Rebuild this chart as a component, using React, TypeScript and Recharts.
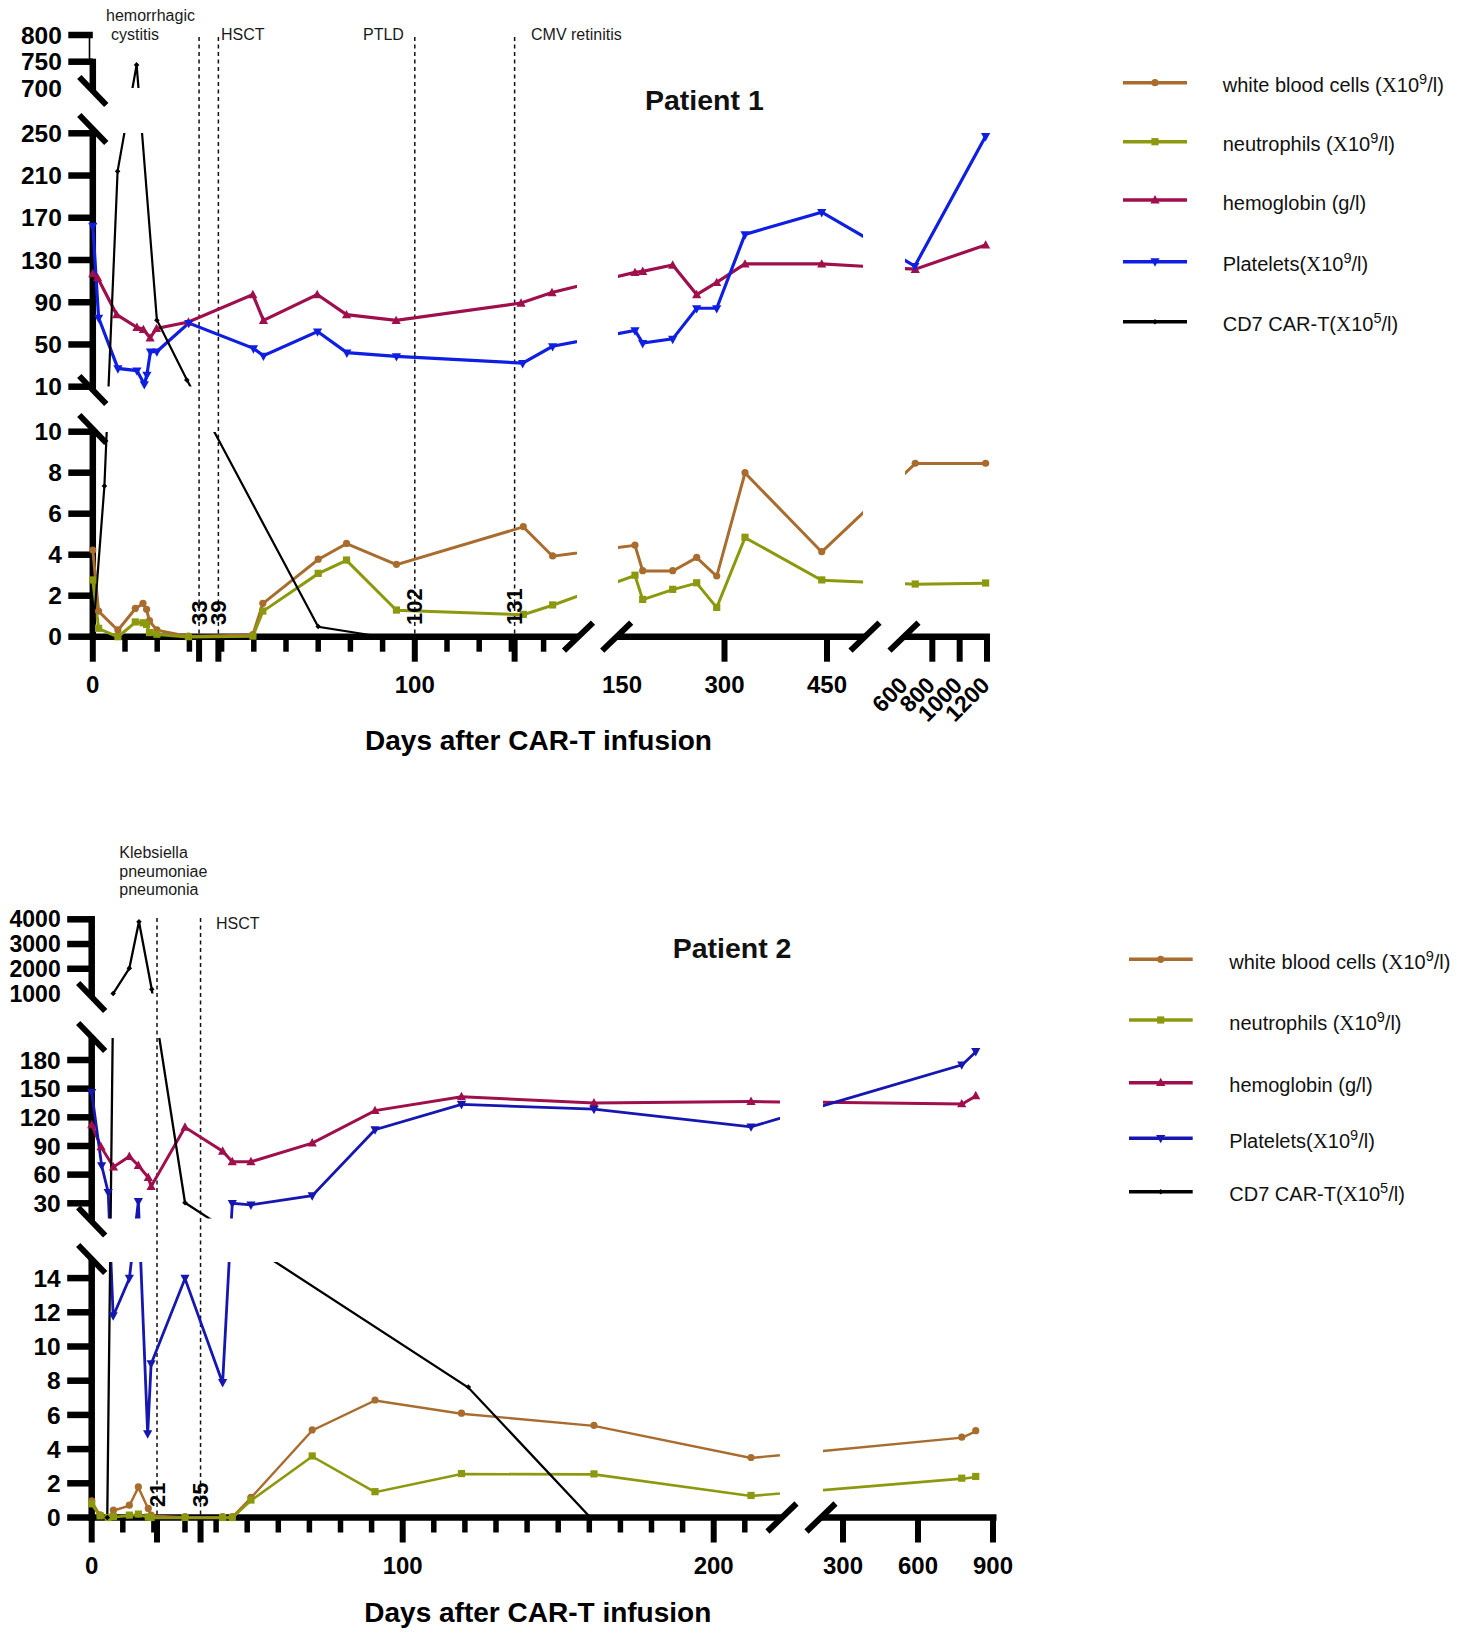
import React from "react";
import { LineChart, Line, XAxis, YAxis, ReferenceLine } from "recharts";

const PAGE_W = 1458;
const PAGE_H = 1634;
const SANS = "'Liberation Sans', Arial, Helvetica, sans-serif";
const SERIF = "'Liberation Serif', 'Times New Roman', serif";

const WBC_COLOR = "#A86D2E";
const NEUT_COLOR = "#8C990F";
const HB_COLOR = "#9E0F4C";
const PLT1_COLOR = "#0F1FE2";
const PLT2_COLOR = "#1616B0";
const CART_COLOR = "#000000";

// ---------- Patient 1: days after infusion and values ----------
const p1CountDays = [0, 1.8, 7.8, 13.2, 15.6, 16.7, 17.6, 19.9, 29.7, 49.7, 52.8, 70, 78.8, 94.3, 133.7, 142.8, 169, 180.3, 224.2, 259.3, 288.6, 330, 442.3, 675, 1190];
const p1Wbc = [4.23, 1.25, 0.33, 1.38, 1.63, 1.34, 0.78, 0.33, 0.03, 0.1, 1.63, 3.78, 4.55, 3.53, 5.37, 3.94, 4.47, 3.22, 3.22, 3.87, 2.96, 8.0, 4.15, 8.46, 8.46];
const p1Neut = [2.77, 0.41, 0, 0.72, 0.68, 0.6, 0.2, 0.12, 0, 0.03, 1.25, 3.09, 3.74, 1.3, 1.09, 1.55, 3.0, 1.82, 2.31, 2.63, 1.43, 4.85, 2.77, 2.57, 2.62];
const p1HbDays = [0, 1.5, 7.4, 13.7, 15.7, 17.8, 19.8, 29.7, 49.7, 53, 69.7, 78.8, 94.2, 133, 142.6, 169, 180.3, 224.2, 259.3, 288.6, 330, 442.3, 675, 1190];
const p1Hb = [117, 113, 78, 66, 64, 56, 65, 71, 97, 72.5, 97, 78, 72.5, 89, 99, 118, 119, 125, 97, 108.5, 126, 126, 121, 144];
const p1PltDays = [0, 1.8, 7.8, 13.7, 16, 16.8, 17.9, 19.9, 29.8, 49.9, 53, 69.8, 78.9, 94.3, 133.5, 142.8, 169, 180.3, 224.2, 259.3, 288.6, 330, 442.3, 672, 1190];
const p1Plt = [162, 75, 27, 25, 12, 21, 43, 43, 70, 46, 39, 62, 42, 38.5, 32, 48, 63, 51, 55, 84, 84, 154, 175, 124, 247];
const p1CarDays = [0, 3.6, 7.7, 13.6, 19.9, 29.2, 70, 90];
const p1Car = [0, 7.35, 214, 744, 73, 16.3, 0.5, 0];

// ---------- Patient 2 ----------
const p2CountDays = [0, 2.7, 5.3, 7, 12.1, 15, 18.2, 19.1, 30, 42.1, 45.2, 51.2, 70.9, 91.1, 118.9, 161.5, 212, 775, 831];
const p2Wbc = [0.98, 0.15, 0, 0.43, 0.72, 1.79, 0.53, 0.14, 0.05, 0.05, 0.05, 1.18, 5.12, 6.87, 6.1, 5.39, 3.51, 4.7, 5.08];
const p2Neut = [0.8, 0.1, 0, 0.05, 0.14, 0.2, 0.03, 0, 0, 0, 0, 1.02, 3.6, 1.51, 2.57, 2.55, 1.29, 2.3, 2.4];
const p2HbDays = [0, 3, 7, 12.1, 15, 18.2, 19.1, 30, 42.1, 45.2, 51.2, 70.9, 91.1, 118.9, 161.5, 212, 775, 831];
const p2Hb = [112, 89, 68, 79, 69.5, 57, 47.5, 109.5, 84.5, 73.5, 73.5, 93, 127, 141.5, 135, 136.5, 134, 142.5];
const p2PltDays = [0, 3.2, 5.3, 6.9, 12.1, 15, 18, 19.1, 30, 42.1, 45.2, 51.2, 70.9, 91.1, 118.9, 161.5, 212, 775, 831];
const p2Plt = [146, 69.5, 41.5, 11.8, 14, 32, 4.9, 9, 14, 7.9, 30, 28.3, 38, 107, 133.5, 128.5, 110, 175, 189];
const p2CarDays = [5, 6.9, 12.1, 15.2, 19.3, 30, 121.1, 160.5];
const p2Car = [0, 1000, 2019, 3903, 1170, 30.6, 7.63, 0];

// ---------- events (day of the dashed line, printed tag) ----------
const p1EventDays = [33, 39, 100, 131];
const p1EventTags = ["33", "39", "102", "131"];
const p2EventDays = [21, 35];
const p2EventTags = ["21", "35"];

// ---------- ticks ----------
const p1MajorX = [0, 33, 39, 100, 131, 300, 450, 800, 1000, 1200];
const p1MinorX = [10, 20, 30, 40, 50, 60, 70, 80, 90, 110, 120, 130, 140];
const p1XLabels = [[0, "0"], [100, "100"], [150, "150"], [300, "300"], [450, "450"]];
const p1SlantLabels = [[600, "600"], [800, "800"], [1000, "1000"], [1200, "1200"]];
const p1YBottom = [0, 2, 4, 6, 8, 10];
const p1YMiddle = [10, 50, 90, 130, 170, 210, 250];
const p1YTop = [700, 750, 800];

const p2MajorX = [0, 21, 35, 100, 200, 300, 600, 900];
const p2MinorX = [10, 20, 30, 40, 50, 60, 70, 80, 90, 110, 120, 130, 140, 150, 160, 170, 180, 190, 210];
const p2XLabels = [[0, "0"], [100, "100"], [200, "200"], [300, "300"], [600, "600"], [900, "900"]];
const p2YBottom = [0, 2, 4, 6, 8, 10, 12, 14];
const p2YMiddle = [30, 60, 90, 120, 150, 180];
const p2YTop = [1000, 2000, 3000, 4000];

const legendNames = [
  { text: "white blood cells (", exp: "9" },
  { text: "neutrophils (", exp: "9" },
  { text: "hemoglobin (g/l)", exp: "" },
  { text: "Platelets(", exp: "9" },
  { text: "CD7 CAR-T(", exp: "5" },
];

// ---------- broken-axis pieces: value range -> page pixel ----------
type Piece = { hi: number; v0: number; p0: number; v1: number; p1: number };
const place = (pc: Piece, v: number) => pc.p0 + ((v - pc.v0) * (pc.p1 - pc.p0)) / (pc.v1 - pc.v0);
const mapBroken = (pieces: Piece[], v: number) =>
  place(pieces.find((pc) => v <= pc.hi) || pieces[pieces.length - 1], v);

const p1XPieces: Piece[] = [
  { hi: 148, v0: 0, p0: 92.8, v1: 100, p1: 414.8 },
  { hi: 560, v0: 150, p0: 622, v1: 450, p1: 827 },
  { hi: Infinity, v0: 600, p0: 905, v1: 1200, p1: 987 },
];
const p1YPieces: Piece[] = [
  { hi: 10, v0: 0, p0: 636.7, v1: 10, p1: 431.7 },
  { hi: 600, v0: 10, p0: 386.7, v1: 250, p1: 133.3 },
  { hi: Infinity, v0: 700, p0: 88.4, v1: 800, p1: 35 },
];
const p2XPieces: Piece[] = [
  { hi: 225, v0: 0, p0: 91.7, v1: 200, p1: 713.7 },
  { hi: Infinity, v0: 300, p0: 843, v1: 900, p1: 993 },
];
const p2YPieces: Piece[] = [
  { hi: 15, v0: 0, p0: 1517.5, v1: 14, p1: 1278.1 },
  { hi: 999, v0: 30, p0: 1203.3, v1: 180, p1: 1060 },
  { hi: Infinity, v0: 1000, p0: 993.5, v1: 4000, p1: 919.3 },
];

type Kind = "circle" | "square" | "up" | "down" | "diamond";

function Marker({ kind, cx, cy, color }: { kind: Kind; cx: number; cy: number; color: string }) {
  if (kind === "circle") return <circle cx={cx} cy={cy} r={3.6} fill={color} />;
  if (kind === "square") return <rect x={cx - 3.6} y={cy - 3.6} width={7.2} height={7.2} fill={color} />;
  if (kind === "up")
    return <polygon points={`${cx},${cy - 5} ${cx - 4.6},${cy + 3.4} ${cx + 4.6},${cy + 3.4}`} fill={color} />;
  if (kind === "down")
    return <polygon points={`${cx},${cy + 5} ${cx - 4.6},${cy - 3.4} ${cx + 4.6},${cy - 3.4}`} fill={color} />;
  return <polygon points={`${cx},${cy - 2.8} ${cx + 2.8},${cy} ${cx},${cy + 2.8} ${cx - 2.8},${cy}`} fill={color} />;
}

function buildXTicks(major: number[], minor: number[], labels: any[], slant: any[]) {
  const all = new Map<number, any>();
  minor.forEach((v) => all.set(v, { v, len: 15 }));
  major.forEach((v) => all.set(v, { v, len: 25 }));
  labels.forEach(([v, t]) => all.set(v, { ...(all.get(v) || { v, len: 0 }), label: t }));
  slant.forEach(([v, t]) => all.set(v, { ...(all.get(v) || { v, len: 0 }), label: t, slant: true }));
  return [...all.values()].sort((a, b) => a.v - b.v);
}

function buildYTicks(groups: number[][], noLine: number[], sizes: number[]) {
  const out: any[] = [];
  groups.forEach((vals, piece) =>
    vals.forEach((v) =>
      out.push({ piece, v, label: String(v), line: !noLine.includes(v), size: sizes[piece] })
    )
  );
  return out;
}

const panels = [
  {
    id: "p1",
    regionTop: 0,
    regionBottom: 780,
    plotLeft: 92.8,
    plotRight: 990,
    plotTop: 30,
    axisY: 636.7,
    xPieces: p1XPieces,
    yPieces: p1YPieces,
    xWindows: [[90, 577], [618, 863.3], [905, 990]],
    yWindows: [[30, 88.4], [133.3, 386.7], [431.7, 639]],
    xTicks: buildXTicks(p1MajorX, p1MinorX, p1XLabels, p1SlantLabels),
    yTicks: buildYTicks([p1YBottom, p1YMiddle, p1YTop], [700], [24.5, 24.5, 24.5]),
    xAxisSegs: [[89.5, 578.5], [616.7, 865], [904, 990]],
    yAxisSegs: [[58.7, 91], [129, 390], [429, 640]],
    thinTop: [35, 61.7],
    xBreaks: [578.5, 616.7, 865, 904],
    yBreaks: [91, 129, 390, 429],
    eventDays: p1EventDays,
    eventTags: p1EventTags,
    eventTop: 37,
    tagBottom: 625,
    series: [
      { id: "wbc", days: p1CountDays, values: p1Wbc, color: WBC_COLOR, width: 3, kind: "circle" },
      { id: "neut", days: p1CountDays, values: p1Neut, color: NEUT_COLOR, width: 3, kind: "square" },
      { id: "hb", days: p1HbDays, values: p1Hb, color: HB_COLOR, width: 3.2, kind: "up" },
      { id: "plt", days: p1PltDays, values: p1Plt, color: PLT1_COLOR, width: 3.2, kind: "down" },
      { id: "car", days: p1CarDays, values: p1Car, color: CART_COLOR, width: 2.2, kind: "diamond" },
    ],
  },
  {
    id: "p2",
    regionTop: 800,
    regionBottom: PAGE_H,
    plotLeft: 91.7,
    plotRight: 997,
    plotTop: 910,
    axisY: 1517.5,
    xPieces: p2XPieces,
    yPieces: p2YPieces,
    xWindows: [[89, 780], [822.5, 997]],
    yWindows: [[915, 993.5], [1038, 1218.6], [1261.5, 1519.5]],
    xTicks: buildXTicks(p2MajorX, p2MinorX, p2XLabels, []),
    yTicks: buildYTicks([p2YBottom, p2YMiddle, p2YTop], [1000], [24.5, 24.5, 23]),
    xAxisSegs: [[88.5, 782], [821, 996.5]],
    yAxisSegs: [[916, 997], [1037, 1221.5], [1259, 1521]],
    thinTop: null,
    xBreaks: [782, 821],
    yBreaks: [997, 1037, 1221.5, 1259],
    eventDays: p2EventDays,
    eventTags: p2EventTags,
    eventTop: 918,
    tagBottom: 1507,
    series: [
      { id: "wbc", days: p2CountDays, values: p2Wbc, color: WBC_COLOR, width: 2.4, kind: "circle" },
      { id: "neut", days: p2CountDays, values: p2Neut, color: NEUT_COLOR, width: 2.6, kind: "square" },
      { id: "hb", days: p2HbDays, values: p2Hb, color: HB_COLOR, width: 3, kind: "up" },
      { id: "plt", days: p2PltDays, values: p2Plt, color: PLT2_COLOR, width: 2.8, kind: "down" },
      { id: "car", days: p2CarDays, values: p2Car, color: CART_COLOR, width: 2.3, kind: "diamond" },
    ],
  },
];

const toPoints = (panel: any, s: any) =>
  s.days.map((d: number, i: number) => ({
    px: mapBroken(panel.xPieces, d),
    py: mapBroken(panel.yPieces, s.values[i]),
  }));

const ZERO = { top: 0, right: 0, bottom: 0, left: 0 };

function XTick(props: any) {
  const { x, y, payload, defs } = props;
  const t = defs.find((d: any) => Math.abs(d.px - payload.value) < 0.01);
  if (!t) return <g />;
  return (
    <g>
      {t.len > 0 && (
        <line x1={x} x2={x} y1={y} y2={y + t.len} stroke="#000" strokeWidth={t.len > 20 ? 6 : 5.5} />
      )}
      {t.label && !t.slant && (
        <text x={x} y={y + 56.5} textAnchor="middle" fontFamily={SANS} fontWeight="bold" fontSize={24} fill="#000">
          {t.label}
        </text>
      )}
      {t.label && t.slant && (
        <text
          x={x + 4}
          y={y + 50}
          transform={`rotate(-45 ${x + 4} ${y + 50})`}
          textAnchor="end"
          fontFamily={SANS}
          fontWeight="bold"
          fontSize={23}
          fill="#000"
        >
          {t.label}
        </text>
      )}
    </g>
  );
}

function YTick(props: any) {
  const { x, y, payload, defs } = props;
  const t = defs.find((d: any) => Math.abs(d.py - payload.value) < 0.01);
  if (!t) return <g />;
  return (
    <g>
      {t.line && <line x1={x - 24.5} x2={x} y1={y} y2={y} stroke="#000" strokeWidth={6.5} />}
      <text
        x={x - 31}
        y={y + t.size * 0.355}
        textAnchor="end"
        fontFamily={SANS}
        fontWeight="bold"
        fontSize={t.size}
        fill="#000"
      >
        {t.label}
      </text>
    </g>
  );
}

function Frame({ panel }: { panel: any }) {
  const { regionTop, regionBottom, plotLeft, plotRight, plotTop, axisY } = panel;
  const xDefs = panel.xTicks.map((t: any) => ({ ...t, px: mapBroken(panel.xPieces, t.v) }));
  const yDefs = panel.yTicks.map((t: any) => ({ ...t, py: place(panel.yPieces[t.piece], t.v) }));
  const thick = { stroke: "#000", strokeWidth: 6.5, ifOverflow: "visible" as const };
  return (
    <div style={{ position: "absolute", left: 0, top: regionTop }}>
      <LineChart
        width={PAGE_W}
        height={regionBottom - regionTop}
        margin={{ top: plotTop - regionTop, right: PAGE_W - plotRight, bottom: 0, left: 0 }}
      >
        <XAxis
          type="number"
          dataKey="px"
          domain={[plotLeft, plotRight]}
          allowDataOverflow
          ticks={xDefs.map((t: any) => t.px)}
          interval={0}
          tick={(p: any) => <XTick {...p} defs={xDefs} />}
          tickLine={false}
          axisLine={false}
          tickSize={0}
          tickMargin={0}
          height={regionBottom - axisY}
        />
        <YAxis
          type="number"
          domain={[plotTop, axisY]}
          reversed
          allowDataOverflow
          ticks={yDefs.map((t: any) => t.py)}
          interval={0}
          tick={(p: any) => <YTick {...p} defs={yDefs} />}
          tickLine={false}
          axisLine={false}
          tickSize={0}
          tickMargin={0}
          width={plotLeft}
        />
        {panel.eventDays.map((d: number) => {
          const x = mapBroken(panel.xPieces, d);
          return (
            <ReferenceLine
              key={`ev-${d}`}
              segment={[{ x, y: panel.eventTop }, { x, y: axisY }]}
              stroke="#111"
              strokeWidth={1.5}
              strokeDasharray="4 3.5"
              ifOverflow="visible"
            />
          );
        })}
        {panel.xAxisSegs.map(([a, b]: number[]) => (
          <ReferenceLine key={`xa-${a}`} segment={[{ x: a, y: axisY }, { x: b, y: axisY }]} {...thick} />
        ))}
        {panel.yAxisSegs.map(([a, b]: number[]) => (
          <ReferenceLine key={`ya-${a}`} segment={[{ x: plotLeft, y: a }, { x: plotLeft, y: b }]} {...thick} />
        ))}
        {panel.thinTop && (
          <ReferenceLine
            segment={[{ x: plotLeft - 3.3, y: panel.thinTop[0] }, { x: plotLeft - 3.3, y: panel.thinTop[1] }]}
            stroke="#000"
            strokeWidth={1.6}
            ifOverflow="visible"
          />
        )}
        {panel.xBreaks.map((c: number) => (
          <ReferenceLine
            key={`xb-${c}`}
            segment={[{ x: c - 14.5, y: axisY + 14 }, { x: c + 14.5, y: axisY - 14 }]}
            stroke="#000"
            strokeWidth={6}
            ifOverflow="visible"
          />
        ))}
        {panel.yBreaks.map((c: number) => (
          <ReferenceLine
            key={`yb-${c}`}
            segment={[{ x: plotLeft - 13.5, y: c - 14 }, { x: plotLeft + 13.5, y: c + 14 }]}
            stroke="#000"
            strokeWidth={6}
            ifOverflow="visible"
          />
        ))}
      </LineChart>
    </div>
  );
}

function CellChart({ panel, xw, yw }: { panel: any; xw: number[]; yw: number[] }) {
  const [x0, x1] = xw;
  const [y0, y1] = yw;
  return (
    <div style={{ position: "absolute", left: x0, top: y0 }}>
      <LineChart width={x1 - x0} height={y1 - y0} margin={ZERO}>
        <XAxis type="number" dataKey="px" domain={[x0, x1]} allowDataOverflow hide />
        <YAxis type="number" domain={[y0, y1]} reversed allowDataOverflow hide />
        {panel.series.map((s: any) => (
          <Line
            key={s.id}
            data={toPoints(panel, s)}
            dataKey="py"
            stroke={s.color}
            strokeWidth={s.width}
            dot={false}
            activeDot={false}
            isAnimationActive={false}
          />
        ))}
      </LineChart>
    </div>
  );
}

function MarkerLayer({ panel }: { panel: any }) {
  const { regionTop, regionBottom } = panel;
  return (
    <div style={{ position: "absolute", left: 0, top: regionTop }}>
      <LineChart width={PAGE_W} height={regionBottom - regionTop} margin={ZERO}>
        <XAxis type="number" dataKey="px" domain={[0, PAGE_W]} allowDataOverflow hide />
        <YAxis type="number" domain={[regionTop, regionBottom]} reversed allowDataOverflow hide />
        {panel.series.map((s: any) => (
          <Line
            key={s.id}
            data={toPoints(panel, s)}
            dataKey="py"
            stroke="none"
            activeDot={false}
            isAnimationActive={false}
            dot={(p: any) => (
              <Marker key={`${s.id}-${p.index}`} kind={s.kind} cx={p.cx} cy={p.cy} color={s.color} />
            )}
          />
        ))}
      </LineChart>
    </div>
  );
}

function Legend({ x0, x1, mx, tx, rows, colors }: any) {
  const kinds: Kind[] = ["circle", "square", "up", "down", "diamond"];
  return (
    <g>
      {legendNames.map((n, i) => (
        <g key={n.text}>
          <line x1={x0} x2={x1} y1={rows[i]} y2={rows[i]} stroke={colors[i]} strokeWidth={3.5} />
          <Marker kind={kinds[i]} cx={mx} cy={rows[i]} color={colors[i]} />
          <text x={tx} y={rows[i] + 9.5} fontFamily={SANS} fontSize={20} fill="#111">
            {n.text}
            {n.exp && (
              <>
                <tspan fontFamily={SERIF} fontSize={21}>X</tspan>
                <tspan>10</tspan>
                <tspan dy={-8} fontSize={14.5}>
                  {n.exp}
                </tspan>
                <tspan dy={8}>/l)</tspan>
              </>
            )}
          </text>
        </g>
      ))}
    </g>
  );
}

function Annotations() {
  const small = { fontFamily: SANS, fontSize: 16, fill: "#1a1a1a" };
  const tag = { fontFamily: SANS, fontSize: 22, fontWeight: "bold" as const, fill: "#000" };
  return (
    <svg
      width={PAGE_W}
      height={PAGE_H}
      style={{ position: "absolute", left: 0, top: 0, pointerEvents: "none" }}
    >
      {/* Patient 1 */}
      <text x={106} y={21} {...small}>hemorrhagic</text>
      <text x={111} y={40} {...small}>cystitis</text>
      <text x={221} y={40} {...small}>HSCT</text>
      <text x={363} y={40} {...small}>PTLD</text>
      <text x={531} y={40} {...small}>CMV retinitis</text>
      <text x={645} y={110} fontFamily={SANS} fontSize={28.5} fontWeight="bold" fill="#111">Patient 1</text>
      <text x={538.5} y={750} textAnchor="middle" fontFamily={SANS} fontSize={28} fontWeight="bold" fill="#000">
        Days after CAR-T infusion
      </text>
      {/* Patient 2 */}
      <text x={119.3} y={858} {...small}>Klebsiella</text>
      <text x={119.3} y={876.5} {...small}>pneumoniae</text>
      <text x={119.3} y={895} {...small}>pneumonia</text>
      <text x={216} y={929} {...small}>HSCT</text>
      <text x={672.7} y={958} fontFamily={SANS} fontSize={28.5} fontWeight="bold" fill="#111">Patient 2</text>
      <text x={537.8} y={1622} textAnchor="middle" fontFamily={SANS} fontSize={28} fontWeight="bold" fill="#000">
        Days after CAR-T infusion
      </text>
      {panels.map((panel) =>
        panel.eventDays.map((d: number, i: number) => {
          const x = mapBroken(panel.xPieces, d);
          const y = panel.tagBottom;
          return (
            <text
              key={`${panel.id}-tag-${d}`}
              x={x}
              y={y}
              transform={`rotate(-90 ${x} ${y})`}
              dominantBaseline="central"
              {...tag}
            >
              {panel.eventTags[i]}
            </text>
          );
        })
      )}
      <Legend
        x0={1123}
        x1={1187}
        mx={1155}
        tx={1222.7}
        rows={[82.7, 141.7, 200, 261.7, 321.7]}
        colors={[WBC_COLOR, NEUT_COLOR, HB_COLOR, PLT1_COLOR, CART_COLOR]}
      />
      <Legend
        x0={1129}
        x1={1192.7}
        mx={1160.7}
        tx={1229.3}
        rows={[959.3, 1020, 1082.7, 1138.3, 1191.7]}
        colors={[WBC_COLOR, NEUT_COLOR, HB_COLOR, PLT2_COLOR, CART_COLOR]}
      />
    </svg>
  );
}

export default function App() {
  return (
    <div
      style={{
        position: "absolute",
        left: 0,
        top: 0,
        width: PAGE_W,
        height: PAGE_H,
        background: "#fff",
        overflow: "hidden",
        fontFamily: SANS,
      }}
    >
      {panels.map((p) => (
        <Frame key={`f-${p.id}`} panel={p} />
      ))}
      {panels.map((p) =>
        p.xWindows.map((xw: number[]) =>
          p.yWindows.map((yw: number[]) => (
            <CellChart key={`c-${p.id}-${xw[0]}-${yw[0]}`} panel={p} xw={xw} yw={yw} />
          ))
        )
      )}
      {panels.map((p) => (
        <MarkerLayer key={`m-${p.id}`} panel={p} />
      ))}
      <Annotations />
    </div>
  );
}
